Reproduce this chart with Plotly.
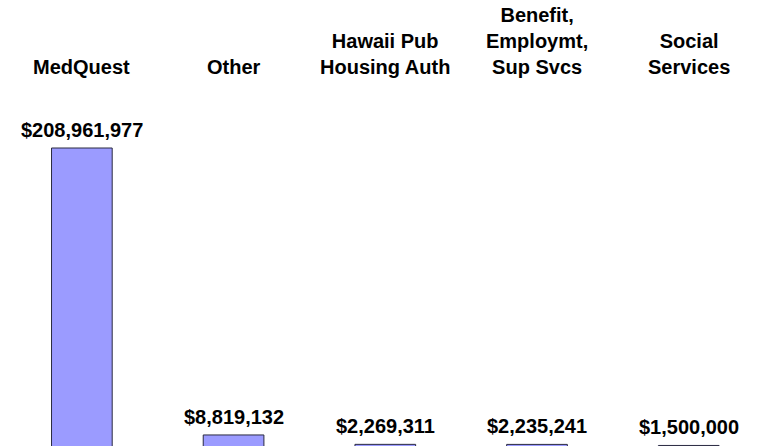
import plotly.graph_objects as go

categories = ["MedQuest", "Other", "Hawaii Pub<br>Housing Auth", "Benefit,<br>Employmt,<br>Sup Svcs", "Social<br>Services"]
values = [208961977, 8819132, 2269311, 2235241, 1500000]
value_labels = ["$208,961,977", "$8,819,132", "$2,269,311", "$2,235,241", "$1,500,000"]

FONT = "Liberation Sans, Arial, sans-serif"
xs = list(range(len(categories)))

fig = go.Figure(go.Bar(
    x=xs, y=values,
    marker=dict(color="#9B9BFF", line=dict(color="#2a2a40", width=1)),
    hoverinfo="skip",
))

annotations = []
for i, (c, v, lab) in enumerate(zip(categories, values, value_labels)):
    annotations.append(dict(
        x=i, y=0.8206, xref="x", yref="paper", text="<b>%s</b>" % c,
        showarrow=False, yanchor="bottom", xanchor="center",
        font=dict(family=FONT, size=20, color="#000000"),
    ))
    annotations.append(dict(
        x=i, y=v, xref="x", yref="y", text="<b>%s</b>" % lab,
        showarrow=False, yanchor="bottom", xanchor="center", yshift=5,
        font=dict(family=FONT, size=20, color="#000000"),
    ))

fig.update_layout(
    width=757, height=446,
    margin=dict(l=6, r=0, t=0, b=0),
    paper_bgcolor="white", plot_bgcolor="white",
    showlegend=False,
    bargap=0.6,
    hovermode=False,
    xaxis=dict(range=[-0.5, 4.45], showticklabels=False, showgrid=False, zeroline=False, showline=False, ticks=""),
    yaxis=dict(range=[1.12e6, 312.2e6], showticklabels=False, showgrid=False, zeroline=False, showline=False, ticks=""),
    annotations=annotations,
)

fig.write_html("out.html", config={"displayModeBar": False},
               post_script="document.body.style.margin='0';document.body.style.overflow='hidden';")
